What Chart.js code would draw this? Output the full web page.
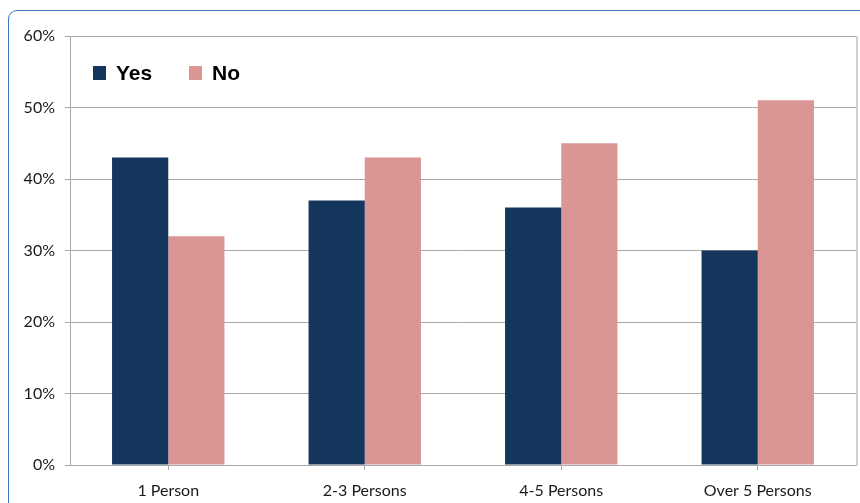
<!DOCTYPE html>
<html>
<head>
<meta charset="utf-8">
<script src="https://cdn.jsdelivr.net/npm/chart.js@4"></script>
<style>
  html, body { margin: 0; padding: 0; background: #ffffff; }
  #frame {
    position: absolute; left: 8px; top: 10px; width: 870px; height: 520px;
    border: 1.5px solid #3b78c8; border-radius: 9px; box-sizing: border-box;
  }
  #wrap { position: absolute; left: 0; top: 0; width: 860px; height: 503px; }
</style>
</head>
<body>
<div id="frame"></div>
<div id="wrap"><canvas id="c" width="860" height="503"></canvas></div>
<script>
const categories = ['1 Person', '2-3 Persons', '4-5 Persons', 'Over 5 Persons'];
const yesValues = [43, 37, 36, 30];
const noValues = [32, 43, 45, 51];
const yTicks = [0, 10, 20, 30, 40, 50, 60];

const GRID = '#a9a9a9';

// Legend drawn inside the plot area, top-left
const insideLegend = {
  id: 'insideLegend',
  afterDraw(chart) {
    const ctx = chart.ctx;
    const area = chart.chartArea;
    ctx.save();
    ctx.font = 'bold 21px "Liberation Sans", Arial, sans-serif';
    ctx.textBaseline = 'middle';
    let x = area.left + 23;
    const y = area.top + 37;
    chart.data.datasets.forEach((ds) => {
      ctx.fillStyle = ds.backgroundColor;
      ctx.fillRect(x, y - 7, 13, 14);
      ctx.fillStyle = '#000000';
      ctx.fillText(ds.label, x + 23, y + 1);
      x += 96;
    });
    // right edge of plot area
    ctx.strokeStyle = '#d0d0d0';
    ctx.lineWidth = 2;
    ctx.beginPath();
    ctx.moveTo(area.right + 1, area.top);
    ctx.lineTo(area.right + 1, area.bottom);
    ctx.stroke();
    ctx.restore();
  }
};

new Chart(document.getElementById('c'), {
  type: 'bar',
  data: {
    labels: categories,
    datasets: [
      { label: 'Yes', data: yesValues, backgroundColor: '#14365c', borderWidth: 0 },
      { label: 'No', data: noValues, backgroundColor: '#d99694', borderWidth: 0 }
    ]
  },
  options: {
    responsive: false,
    animation: false,
    layout: { padding: { top: 36, right: 4, left: 0, bottom: 0 } },
    plugins: { legend: { display: false }, tooltip: { enabled: false } },
    datasets: { bar: { categoryPercentage: 0.572, barPercentage: 1.0 } },
    scales: {
      x: {
        grid: { display: true, drawOnChartArea: false, drawTicks: true, tickLength: 5, color: GRID, offset: false },
        border: { display: true, color: GRID, width: 1 },
        ticks: {
          color: '#1a1a1a', padding: 11,
          font: { family: 'Lato, "Open Sans", sans-serif', size: 16 }
        },
        afterFit(scale) { scale.height = 38; }
      },
      y: {
        min: 0, max: 60,
        afterBuildTicks(scale) { scale.ticks = yTicks.map(v => ({ value: v })); },
        grid: { color: GRID, lineWidth: 1, drawTicks: true, tickLength: 5 },
        border: { display: true, color: GRID, width: 1 },
        ticks: {
          color: '#1a1a1a', padding: 10,
          font: { family: 'Lato, "Open Sans", sans-serif', size: 16 },
          callback: (v) => v + '%'
        },
        afterFit(scale) { scale.width = 70; }
      }
    }
  },
  plugins: [insideLegend]
});
</script>
</body>
</html>
